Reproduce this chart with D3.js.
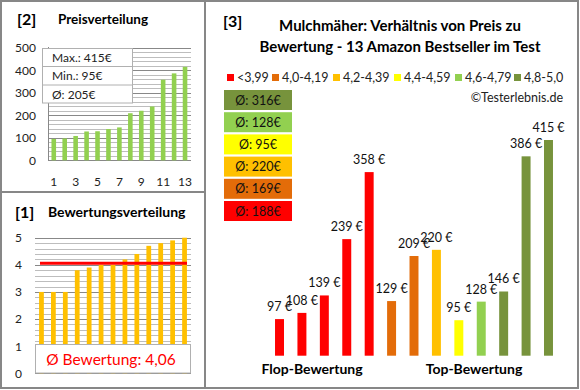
<!DOCTYPE html>
<html><head><meta charset="utf-8">
<script src="https://cdn.jsdelivr.net/npm/d3@7"></script>
<style>body{margin:0;background:#fff}svg{display:block;font-family:Lato,'Open Sans',sans-serif}</style>
</head><body><svg id="c" width="580" height="390"></svg>
<script>
// ---- data ----
const products = ["1","2","3","4","5","6","7","8","9","10","11","12","13"];
const prices = [97,108,139,239,358,129,209,220,95,128,146,386,415];
const ratingClass = [0,0,0,0,0,1,1,2,3,4,5,5,5];
const classLabels = ["<3,99","4,0-4,19","4,2-4,39","4,4-4,59","4,6-4,79","4,8-5,0"];
const classColors = ["#FF0000","#E36C09","#FFC000","#FFFF00","#92D050","#77933C"];
const classAvg = ["188€","169€","220€","95€","128€","316€"];
const sortedPrices = [95,97,108,128,129,139,146,209,220,239,358,386,415];
const sortedRatings = [3.0,3.0,3.0,3.8,3.9,4.0,4.0,4.2,4.4,4.7,4.8,4.9,5.0];
const priceTicks = [0,100,200,300,400,500];
const ratingTicks = [0,1,2,3,4,5];
const xTickLabels = ["1","3","5","7","9","11","13"];
const priceStats = ["Max.: 415€","Min.: 95€","Ø: 205€"];
const avgRating = 4.06;
const avgRatingText = "Ø Bewertung: 4,06";

const svg = d3.select("#c");
const grayLine = "#878787";

// frames
svg.append("rect").attr("x",1).attr("y",1).attr("width",577).attr("height",387)
  .attr("fill","none").attr("stroke",grayLine).attr("stroke-width",2);
svg.append("line").attr("x1",205).attr("x2",205).attr("y1",0).attr("y2",389).attr("stroke",grayLine).attr("stroke-width",2);
svg.append("line").attr("x1",0).attr("x2",205).attr("y1",192).attr("y2",192).attr("stroke",grayLine).attr("stroke-width",2);

// ---- panel [2] Preisverteilung ----
const g2 = svg.append("g");
g2.append("text").attr("x",17).attr("y",25).attr("font-size",16).attr("font-weight","bold").text("[2]");
g2.append("text").attr("x",58).attr("y",24).attr("font-size",13.5).attr("font-weight","bold").text("Preisverteilung");
const y2 = d3.scaleLinear().domain([0,500]).range([160.3,47.7]);
const x2 = d3.scaleBand().domain(d3.range(13)).range([48.3,190.5]).paddingInner(0.58).paddingOuter(0.29);
g2.append("g").selectAll("line").data(d3.range(0,501,20)).join("line")
  .attr("x1",48).attr("x2",191).attr("y1",d=>Math.round(y2(d))+0.5).attr("y2",d=>Math.round(y2(d))+0.5)
  .attr("stroke",d=>d%100===0?"#888":"#bdbdbd").attr("stroke-width",1);
g2.append("line").attr("x1",48.5).attr("x2",48.5).attr("y1",47).attr("y2",161).attr("stroke","#888");
g2.selectAll("rect.b").data(sortedPrices).join("rect").attr("class","b")
  .attr("x",(d,i)=>x2(i)).attr("width",x2.bandwidth()).attr("y",d=>y2(d)).attr("height",d=>y2(0)-y2(d)).attr("fill","#92D050");
g2.append("g").attr("transform","translate(36,0)")
  .call(d3.axisLeft(y2).tickValues(priceTicks).tickFormat(d3.format("d")).tickSize(0).tickPadding(0))
  .call(a=>{a.select(".domain").remove();a.selectAll("text").attr("font-size",12).attr("font-family","Lato").attr("fill","#222");});
g2.selectAll("text.xl").data(xTickLabels).join("text").attr("class","xl")
  .attr("x",(d)=>x2(+d-1)+x2.bandwidth()/2).attr("y",186).attr("text-anchor","middle").attr("font-size",12).attr("fill","#222").text(d=>d);
g2.append("rect").attr("x",42.5).attr("y",48.5).attr("width",90).attr("height",54.5).attr("fill","#fff").attr("stroke","#b0b0b0");
[66.5,85].forEach(yy=>g2.append("line").attr("x1",42.5).attr("x2",132.5).attr("y1",yy).attr("y2",yy).attr("stroke","#b0b0b0"));
g2.selectAll("text.st").data(priceStats).join("text").attr("class","st")
  .attr("x",52).attr("y",(d,i)=>62+i*18.3).attr("font-size",12).attr("fill","#222").text(d=>d);

// ---- panel [1] Bewertungsverteilung ----
const g1 = svg.append("g");
g1.append("text").attr("x",15).attr("y",218).attr("font-size",16).attr("font-weight","bold").text("[1]");
g1.append("text").attr("x",48).attr("y",217).attr("font-size",14).attr("font-weight","bold").text("Bewertungsverteilung");
const y1 = d3.scaleLinear().domain([0,5]).range([373.3,237.7]);
const x1 = d3.scaleBand().domain(d3.range(13)).range([35.5,190.5]).paddingInner(0.6).paddingOuter(0.3);
g1.append("g").selectAll("line").data(d3.range(0,26)).join("line")
  .attr("x1",35).attr("x2",191).attr("y1",d=>Math.round(y1(d/5))+0.5).attr("y2",d=>Math.round(y1(d/5))+0.5)
  .attr("stroke",d=>d%5===0?"#888":"#bdbdbd");
g1.selectAll("rect.b").data(sortedRatings).join("rect").attr("class","b")
  .attr("x",(d,i)=>x1(i)).attr("width",x1.bandwidth()).attr("y",d=>y1(d)).attr("height",d=>y1(0)-y1(d)).attr("fill","#FFC000");
g1.append("g").attr("transform","translate(22,0)")
  .call(d3.axisLeft(y1).tickValues(ratingTicks).tickFormat(d3.format("d")).tickSize(0).tickPadding(0))
  .call(a=>{a.select(".domain").remove();a.selectAll("text").attr("font-size",12).attr("font-family","Lato").attr("fill","#222");});
g1.append("line").attr("x1",40).attr("x2",187).attr("y1",y1(avgRating)).attr("y2",y1(avgRating)).attr("stroke","#FF0000").attr("stroke-width",3);
g1.append("rect").attr("x",35.5).attr("y",344.5).attr("width",155).attr("height",28.5).attr("fill","#fff").attr("stroke","#b0b0b0");
g1.append("text").attr("x",111).attr("y",365).attr("text-anchor","middle").attr("font-size",15.5).attr("fill","#FF0000").text(avgRatingText);

// ---- panel [3] ----
const g3 = svg.append("g");
g3.append("text").attr("x",223).attr("y",27).attr("font-size",16).attr("font-weight","bold").text("[3]");
g3.append("text").attr("x",400).attr("y",31).attr("text-anchor","middle").attr("font-size",15).attr("font-weight","bold").text("Mulchmäher: Verhältnis von Preis zu");
g3.append("text").attr("x",400).attr("y",52).attr("text-anchor","middle").attr("font-size",15).attr("font-weight","bold").text("Bewertung - 13 Amazon Bestseller im Test");
const legX = [227,272,333,394,455,514];
const leg = g3.selectAll("g.leg").data(classLabels).join("g").attr("class","leg")
  .attr("transform",(d,i)=>`translate(${legX[i]},0)`);
leg.append("rect").attr("x",0).attr("y",74).attr("width",7).attr("height",7).attr("fill",(d,i)=>classColors[i]);
leg.append("text").attr("x",10).attr("y",82).attr("font-size",12.5).attr("fill","#222").text(d=>d);
g3.append("text").attr("x",563).attr("y",102).attr("text-anchor","end").attr("font-size",12.5).attr("fill","#222").text("©Testerlebnis.de");
const boxOrder = [5,4,3,2,1,0];
const bx = g3.selectAll("g.box").data(boxOrder).join("g").attr("class","box")
  .attr("transform",(d,i)=>`translate(224,${90+i*22.2})`);
bx.append("rect").attr("width",68).attr("height",20).attr("fill",d=>classColors[d]);
bx.append("text").attr("x",34).attr("y",14.5).attr("text-anchor","middle").attr("font-size",12.5).attr("fill","#111").text(d=>"Ø: "+classAvg[d]);
const x3 = d3.scaleBand().domain(products).range([268.3,559.7]).paddingInner(0.6).paddingOuter(0.3);
const y3 = d3.scaleLinear().domain([32,415]).range([355.7,140]);
g3.selectAll("rect.pb").data(prices).join("rect").attr("class","pb")
  .attr("x",(d,i)=>x3(products[i])).attr("width",x3.bandwidth())
  .attr("y",d=>y3(d)).attr("height",d=>y3(32)-y3(d)).attr("fill",(d,i)=>classColors[ratingClass[i]]);
g3.selectAll("text.pl").data(prices).join("text").attr("class","pl")
  .attr("x",(d,i)=>x3(products[i])+x3.bandwidth()/2).attr("y",d=>y3(d)-8)
  .attr("text-anchor","middle").attr("font-size",12.5).attr("fill","#111").text(d=>d+" €");
g3.append("text").attr("x",312).attr("y",374).attr("text-anchor","middle").attr("font-size",14).attr("font-weight","bold").text("Flop-Bewertung");
g3.append("text").attr("x",474).attr("y",374).attr("text-anchor","middle").attr("font-size",14).attr("font-weight","bold").text("Top-Bewertung");
</script></body></html>
